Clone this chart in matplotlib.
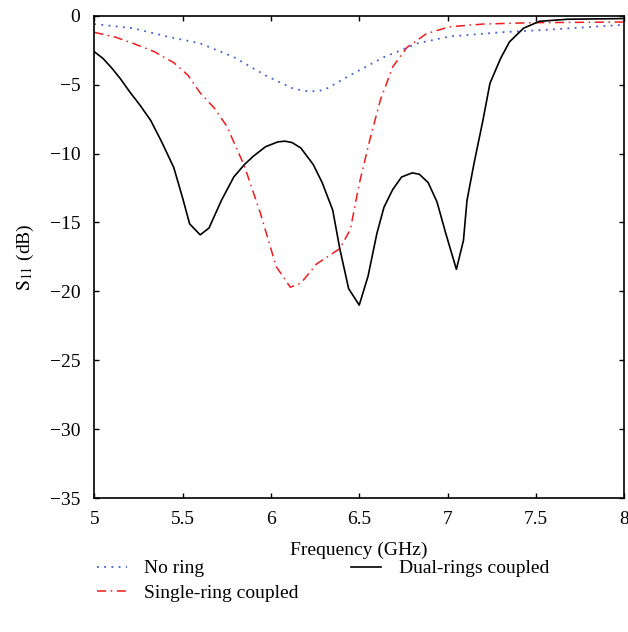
import numpy as np
import matplotlib.pyplot as plt

# values
freq_none = [5.0, 5.22, 5.41, 5.6, 5.79, 5.98, 6.13, 6.22, 6.3, 6.45, 6.64, 6.83, 7.01, 7.3, 7.58, 8.0]
s11_none = [-0.6, -0.9, -1.5, -2.0, -3.0, -4.4, -5.3, -5.5, -5.4, -4.3, -3.0, -2.0, -1.5, -1.2, -1.0, -0.65]

freq_single = [5.0, 5.12, 5.22, 5.34, 5.45, 5.53, 5.6, 5.68, 5.75, 5.85, 5.94, 6.03, 6.11, 6.17, 6.26, 6.39, 6.45, 6.5,
               6.56, 6.62, 6.69, 6.77, 6.88, 7.01, 7.2, 7.48, 8.0]
s11_single = [-1.2, -1.55, -2.0, -2.6, -3.4, -4.3, -5.6, -6.7, -8.0, -10.9, -14.3, -18.2, -19.7, -19.4, -18.0, -16.9, -15.5, -12.2,
              -9.0, -6.1, -3.7, -2.3, -1.3, -0.8, -0.6, -0.5, -0.45]

freq_dual = [5.0, 5.05, 5.1, 5.15, 5.2, 5.26, 5.32, 5.38, 5.45, 5.5, 5.54, 5.6, 5.65, 5.72, 5.79, 5.85, 5.9,
             5.97, 6.04, 6.08, 6.12, 6.17, 6.24,
             6.29, 6.35, 6.39, 6.44, 6.5, 6.55, 6.6, 6.64, 6.69, 6.74, 6.8, 6.84, 6.89,
             6.94, 6.99, 7.05, 7.09, 7.11, 7.15, 7.2, 7.24, 7.3, 7.35, 7.43, 7.52, 7.68, 8.0]
s11_dual = [-2.6, -3.1, -3.8, -4.6, -5.5, -6.5, -7.6, -9.1, -11.0, -13.2, -15.1, -15.9, -15.4, -13.4, -11.7, -10.8, -10.2,
            -9.5, -9.15, -9.1, -9.2, -9.6, -10.8,
            -12.1, -14.1, -16.9, -19.8, -21.0, -18.9, -15.8, -13.9, -12.6, -11.7, -11.4, -11.5, -12.1,
            -13.5, -15.8, -18.4, -16.3, -13.4, -10.7, -7.6, -4.9, -3.1, -1.9, -0.9, -0.4, -0.25, -0.2]

plt.rcParams['font.family'] = ['Liberation Serif', 'DejaVu Serif']
plt.rcParams['mathtext.fontset'] = 'stix'

fig = plt.figure(figsize=(6.28, 6.32), dpi=100)
ax = fig.add_axes([0.15, 0.212, 0.844, 0.763])

l1, = ax.plot(freq_none, s11_none, color='#4060d0', linestyle=(0, (1, 3)), lw=1.3, label='No ring')
l2, = ax.plot(freq_single, s11_single, color='#ee1c1c', linestyle=(0, (6, 3, 1, 3)), lw=1.1,
              label='Single-ring coupled')
l3, = ax.plot(freq_dual, s11_dual, color='black', lw=1.2, label='Dual-rings coupled')

ax.set_xlim(5, 8)
ax.set_ylim(-35, 0)
ax.set_xticks([5, 5.5, 6, 6.5, 7, 7.5, 8])
ax.set_xticklabels(['5', '5.5', '6', '6.5', '7', '7.5', '8'])
ax.set_yticks([0, -5, -10, -15, -20, -25, -30, -35])
ax.tick_params(direction='in', top=True, right=True, labelsize=14, length=3.5, width=1)
ax.tick_params(axis='x', pad=9)
ax.tick_params(axis='y', pad=10)
for sp in ax.spines.values():
    sp.set_linewidth(1.2)

ax.set_xlabel('Frequency (GHz)', fontsize=14, labelpad=10)
ax.set_ylabel(r'$\mathrm{S}_{11}$ (dB)', fontsize=14, labelpad=10)

fig.legend(handles=[l1, l2, l3], loc='upper left', bbox_to_anchor=(0.126, 0.142), ncol=2,
           frameon=False, fontsize=14, handlelength=1.55, handletextpad=0.9,
           columnspacing=2.7, labelspacing=0.35)

fig.savefig('out.png', dpi=100)
